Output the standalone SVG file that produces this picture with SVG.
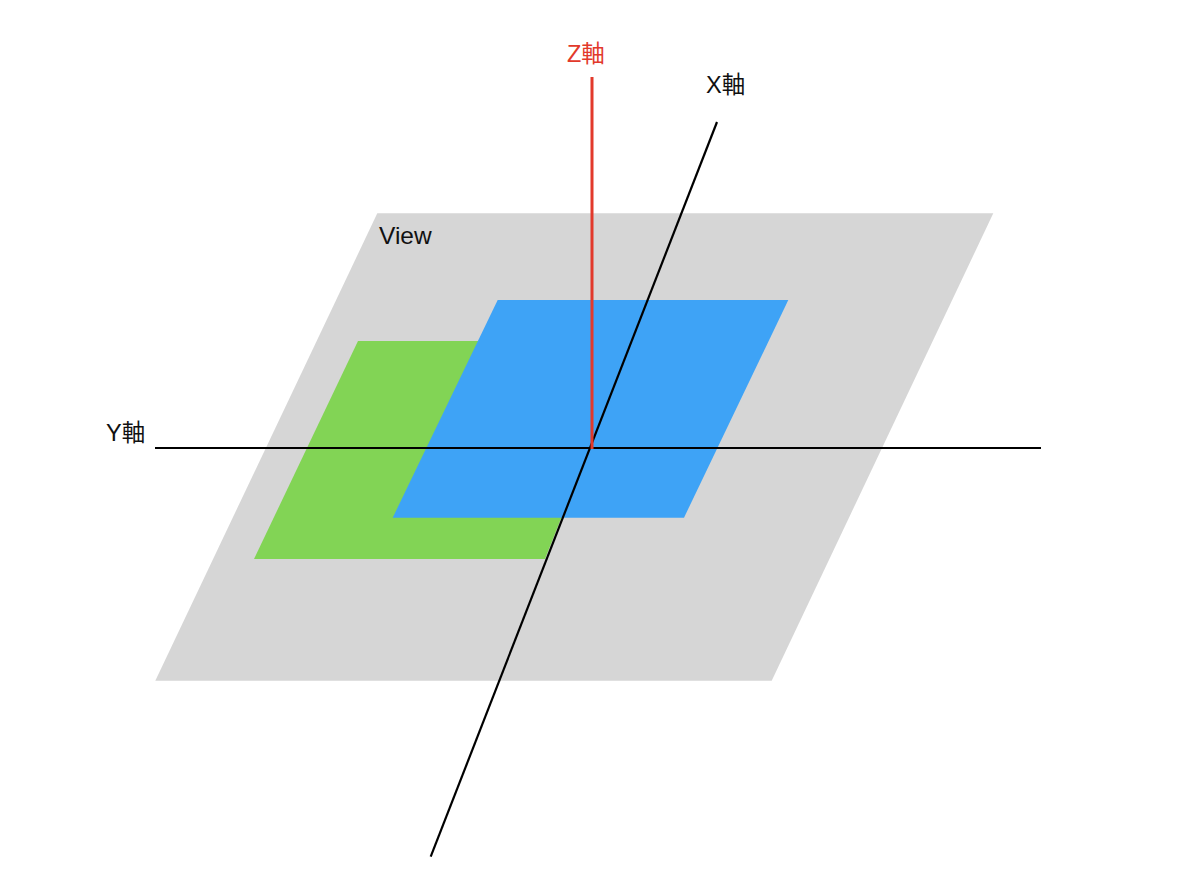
<svg xmlns="http://www.w3.org/2000/svg" width="1200" height="881" viewBox="0 0 1200 881">
<style>
.lbl{font-family:"Liberation Sans","Noto Sans CJK JP",sans-serif;font-size:23.5px;fill:#111}
.red{fill:#e2392b}
.ax{stroke:#000;stroke-width:2.2;fill:none}
</style>
<rect width="1200" height="881" fill="#fff"/>
<g id="view">
<polygon points="377.3,213.3 993.3,213.3 771.7,680.7 155.3,680.7" fill="#d6d6d6"/>
<text class="lbl" x="379" y="244" style="font-size:24.5px">View</text>
</g>
<g id="green">
<polygon points="358,341 631.5,341 545,559 254,559" fill="#82d455"/>
</g>
<g id="blue">
<polygon points="497.7,300 788.3,300 684,517.7 392.7,517.7" fill="#3ea3f6"/>
</g>
<g id="connectors">
<line class="ax" x1="155" y1="448" x2="1041" y2="448"/>
<line class="ax" x1="717" y1="122" x2="430.7" y2="856.7"/>
<line x1="592" y1="77" x2="592" y2="449" stroke="#e2392b" stroke-width="3"/>
</g>
<g id="labels">
<text class="lbl red" x="567" y="62">Z軸</text>
<text class="lbl" x="706" y="93">X軸</text>
<text class="lbl" x="106" y="441">Y軸</text>
</g>
</svg>
